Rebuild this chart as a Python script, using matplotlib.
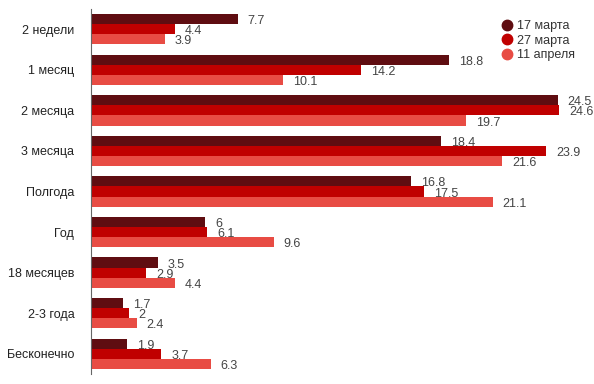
import numpy as np
import matplotlib
matplotlib.use('Agg')
import matplotlib.pyplot as plt
from matplotlib.lines import Line2D

plt.rcParams['font.family'] = ['Liberation Sans', 'DejaVu Sans']

categorias = ['2 недели', '1 месяц', '2 месяца', '3 месяца', 'Полгода', 'Год',
              '18 месяцев', '2-3 года', 'Бесконечно']
series = ['17 марта', '27 марта', '11 апреля']
v17 = [7.7, 18.8, 24.5, 18.4, 16.8, 6, 3.5, 1.7, 1.9]
v27 = [4.4, 14.2, 24.6, 23.9, 17.5, 6.1, 2.9, 2, 3.7]
v11 = [3.9, 10.1, 19.7, 21.6, 21.1, 9.6, 4.4, 2.4, 6.3]
labels17 = ['7.7', '18.8', '24.5', '18.4', '16.8', '6', '3.5', '1.7', '1.9']
labels27 = ['4.4', '14.2', '24.6', '23.9', '17.5', '6.1', '2.9', '2', '3.7']
labels11 = ['3.9', '10.1', '19.7', '21.6', '21.1', '9.6', '4.4', '2.4', '6.3']

cores = ['#5f0d11', '#c00000', '#e84c44']

fig = plt.figure(figsize=(5.94, 3.84), dpi=100)
ax = fig.add_axes([91 / 594, 10 / 384, 1 - 91 / 594 - 0.01, 365 / 384])

y = np.arange(len(categorias))
h = 0.25
dados = [(v17, labels17), (v27, labels27), (v11, labels11)]
for k, (vals, labs) in enumerate(dados):
    pos = y + (k - 1) * h
    ax.barh(pos, vals, height=h, color=cores[k], label=series[k])
    for p, v, t in zip(pos, vals, labs):
        ax.annotate(t, (v, p), xytext=(7, -1.5), textcoords='offset points',
                    va='center', ha='left', fontsize=9, color='#444444')

ax.set_ylim(len(categorias) - 0.5, -0.5)
ax.set_xlim(0, 26.1)
ax.set_yticks(y)
ax.set_yticklabels(categorias, fontsize=9, color='#222222')
ax.tick_params(axis='y', length=0, pad=12)
ax.set_xticks([])
for s in ['top', 'right', 'bottom']:
    ax.spines[s].set_visible(False)
ax.spines['left'].set_color('#666666')

handles = [Line2D([], [], marker='o', linestyle='', markersize=7.5,
                  markerfacecolor=c, markeredgecolor=c) for c in cores]
ax.legend(handles, series, loc='upper left', bbox_to_anchor=(0.795, 1.0),
          frameon=False, fontsize=9, handletextpad=0.1, handlelength=1.5,
          labelspacing=0.2, labelcolor='#333333')

plt.savefig('out.png', dpi=100)
